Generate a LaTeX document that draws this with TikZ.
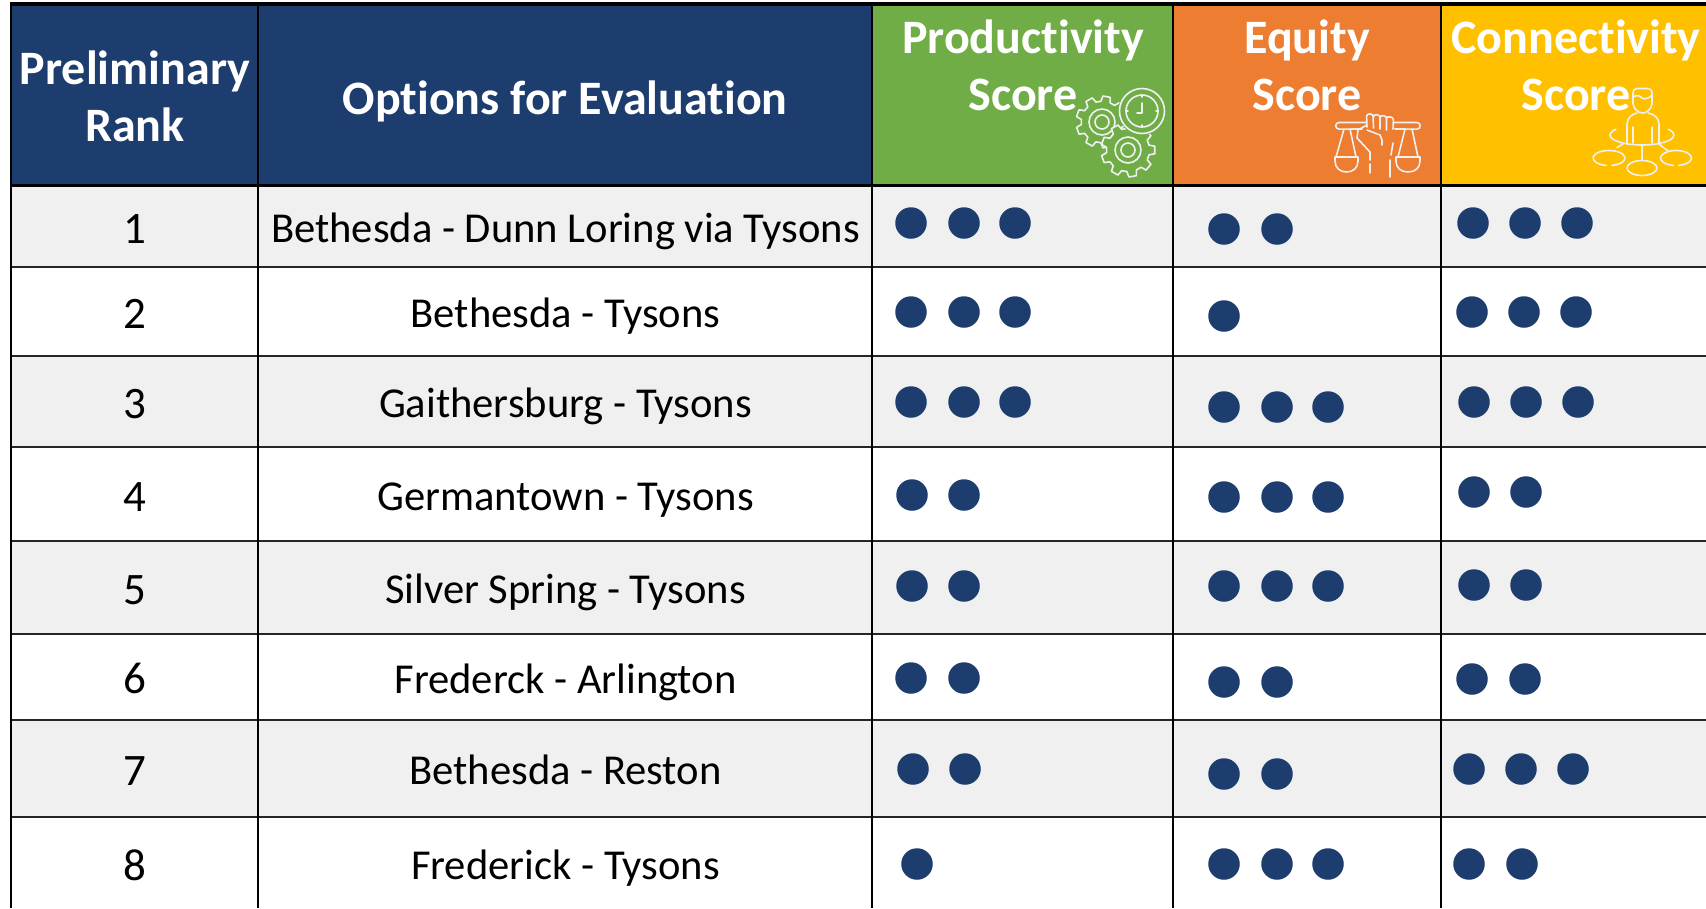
\documentclass[tikz,border=0pt]{standalone}
\usepackage{fontspec}
\setmainfont[Ligatures=NoCommon]{Carlito}
\definecolor{navy}{HTML}{1C3D6D}
\definecolor{prodgreen}{HTML}{70AD47}
\definecolor{eqorange}{HTML}{ED7D31}
\definecolor{conngold}{HTML}{FFC000}
\definecolor{stripe}{HTML}{F0F0F0}
\tikzset{
  headtxt/.style={text=white,font=\fontsize{48}{57}\selectfont\bfseries,align=center,inner sep=0pt,anchor=center},
  celltxt/.style={text=black,font=\fontsize{42.6}{46}\selectfont,inner sep=0pt,anchor=base},
  ranktxt/.style={text=black,font=\fontsize{45}{46}\selectfont,inner sep=0pt,anchor=base},
  scoredot/.style={circle,fill=navy,draw=none,minimum size=31.5pt,inner sep=0pt},
  gridv/.style={draw=black,line width=2.8pt},
  gridh/.style={draw=black!85,line width=1.7pt},
  icon/.style={draw=white!94!black,line width=1.6pt,line cap=round,line join=round},
}
\newcommand{\gearpath}[4]{% cx cy r fill
  \begin{scope}[shift={(#1,#2)}]
  \draw[icon,fill=#4] (-13:#3*0.80) \foreach \a in {0,40,...,320}{
     -- (\a-13:#3*0.80) -- (\a-8:#3) -- (\a+8:#3) -- (\a+13:#3*0.80)
   } -- cycle;
  \end{scope}
}
\begin{document}
\begin{tikzpicture}[x=1pt,y=-1pt]
\useasboundingbox (0,0) rectangle (1706,908);
\fill[white] (0,0) rectangle (1706,908);
% header fills
\fill[navy] (11,4) rectangle (872,186);
\fill[prodgreen] (872,4) rectangle (1173,186);
\fill[eqorange] (1173,4) rectangle (1441,186);
\fill[conngold] (1441,4) rectangle (1706,186);
% stripes
\fill[stripe] (11,186) rectangle (1706,267);
\fill[stripe] (11,356) rectangle (1706,447);
\fill[stripe] (11,541) rectangle (1706,634);
\fill[stripe] (11,720) rectangle (1706,817);
% rows
\foreach \yy in {267,356,447,541,634,720,817}{\draw[gridh] (11,\yy) -- (1706,\yy);}
\draw[black,line width=3.2pt] (11,185.5) -- (1706,185.5);
\draw[black,line width=3.2pt] (10,4) -- (1706,4);
\foreach \xx in {11,258,872,1173,1441}{\draw[gridv] (\xx,3) -- (\xx,908);}
% header text
\node[headtxt] (h1) at (135,96) {Preliminary\\Rank};
\node[headtxt,anchor=base] (h2) at (565,114) {Options for Evaluation};
\node[headtxt] (h3) at (1023,65) {Productivity\\Score};
\node[headtxt] (h4) at (1307,65) {Equity\\Score};
\node[headtxt] (h5) at (1576,65) {Connectivity\\Score};
% rank + options
\foreach \n/\yr/\yo/\txt in {1/243.3/242.7/Bethesda - Dunn Loring via Tysons,2/328/327.7/Bethesda - Tysons,3/418/417.7/Gaithersburg - Tysons,4/511.7/510.5/Germantown - Tysons,5/604.7/603.5/Silver Spring - Tysons,6/693.7/693/Frederck - Arlington,7/785/784.5/Bethesda - Reston,8/880.3/879.5/Frederick - Tysons}{
  \node[ranktxt] (rank\n) at (134.7,\yr) {\n};
  \node[celltxt] (opt\n) at (565.5,\yo) {\txt};
}
% dots
\foreach \nm/\xx/\yy in {
 a1/911/223,a2/964/223,a3/1015/223,
 b1/1224/229,b2/1277/229,
 c1/1473/223,c2/1525/223,c3/1577/223,
 d1/911/312,d2/964/312,d3/1015/312,
 e1/1224/316,
 f1/1472/312,f2/1524/312,f3/1576/312,
 g1/911/402,g2/964/402,g3/1015/402,
 h1x/1224/407,h2x/1277/407,h3x/1328/407,
 i1/1474/402,i2/1526/402,i3/1578/402,
 j1/912/495,j2/964/495,
 k1/1224/497,k2/1277/497,k3/1328/497,
 l1/1474/492,l2/1526/492,
 m1/912/586,m2/964/586,
 n1/1224/586,n2/1277/586,n3/1328/586,
 o1/1474/585,o2/1526/585,
 p1/911/678,p2/964/678,
 q1/1224/682,q2/1277/682,
 r1/1472/679,r2/1525/679,
 s1/913/769,s2/965/769,
 t1/1224/774,t2/1277/774,
 u1/1469/769,u2/1521/769,u3/1573/769,
 v1/917/864,
 w1/1224/864,w2/1277/864,w3/1328/864,
 x1/1469/864,x2/1522/864}{
  \node[scoredot] (dot\nm) at (\xx,\yy) {};
}
% productivity icon
\gearpath{1102}{122}{26}{prodgreen}
\draw[icon] (1102,122) circle (13);
\draw[icon] (1102,122) circle (7);
\gearpath{1128}{150}{27}{prodgreen}
\draw[icon] (1128,150) circle (13);
\draw[icon] (1128,150) circle (7);
\fill[prodgreen] (1142,111) circle (24);
\draw[icon] (1142,111) circle (22.5);
\draw[icon] (1142,111) circle (16);
\draw[icon] (1142,103) -- (1142,113) -- (1137,113);
\draw[icon] (1142,95) -- (1142,97) (1142,125) -- (1142,127) (1126,111) -- (1128,111) (1156,111) -- (1158,111);
% equity icon
\draw[icon] (1366,122.5) -- (1339,122.5) arc[start angle=270,end angle=90,radius=3.3] -- (1362,129);
\draw[icon] (1394,122.5) -- (1417,122.5) arc[start angle=-90,end angle=90,radius=3.3] -- (1395,129);
\draw[icon,rounded corners=2.5pt] (1367,127) -- (1366.5,114) -- (1373,114) -- (1373.5,128);
\draw[icon,rounded corners=2.5pt] (1373.5,116) -- (1373.5,114.5) -- (1380,115) -- (1380,129);
\draw[icon,rounded corners=2.5pt] (1380,116) -- (1380,115.5) -- (1386.5,116) -- (1386.5,130);
\draw[icon,rounded corners=2.5pt] (1386.5,117) -- (1386.5,116.5) -- (1393.5,117.5) -- (1393,129);
\draw[icon] (1367,125) -- (1358,130) -- (1357,138) -- (1370,152) -- (1370,160) (1370,164) -- (1370,173);
\draw[icon] (1367,130) -- (1380,135) -- (1382,140) -- (1382,145);
\draw[icon] (1393,143) -- (1391,155) (1390,160) -- (1390,177);
\draw[icon] (1344,129) -- (1336,157) (1350,129) -- (1356,157);
\draw[icon] (1335,157) -- (1358,157) -- (1358,161) .. controls (1358,168) and (1353,172) .. (1346.5,172) .. controls (1340,172) and (1335,168) .. (1335,161) -- cycle;
\draw[icon] (1405,129) -- (1398,157) (1412,129) -- (1418,157);
\draw[icon] (1396,157) -- (1420,157) -- (1420,161) .. controls (1420,168) and (1415,172) .. (1408,172) .. controls (1401,172) and (1396,168) .. (1396,161) -- cycle;
% connectivity icon
\fill[conngold] (1632,87) rectangle (1654,113);
\draw[icon,rounded corners=4pt] (1633,97) -- (1633,88.5) -- (1652,88.5) -- (1652,97);
\draw[icon] (1633,97) -- (1633,104) .. controls (1634,109) and (1638,113) .. (1642.5,113) .. controls (1647,113) and (1651,109) .. (1652,104) -- (1652,97);
\draw[icon] (1633,97) .. controls (1637,95) and (1639,95) .. (1642,98) .. controls (1645,100) and (1649,98) .. (1652,95);
\draw[icon] (1627,143) -- (1627,124) .. controls (1627,118) and (1632,114) .. (1637,113) (1648,113) .. controls (1654,114) and (1659,118) .. (1659,124) -- (1659,143);
\draw[icon] (1633,127) -- (1633,143) (1652,127) -- (1652,143);
\draw[icon,shift={(1642,135)}] (-145:32 and 10) arc[start angle=-145,end angle=-35+-360,x radius=32,y radius=10];
\draw[icon] (1642,145) -- (1642,160) (1617,147.5) -- (1623,144) (1659,144) -- (1668,151);
\draw[icon] (1642,168) ellipse [x radius=15,y radius=7.5];
\draw[icon,shift={(1609,158)}] (100:16 and 7.5) arc[start angle=100,end angle=440,x radius=16,y radius=7.5];
\draw[icon,shift={(1676,158)}] (100:15.5 and 7.5) arc[start angle=100,end angle=440,x radius=15.5,y radius=7.5];
\end{tikzpicture}
\end{document}
